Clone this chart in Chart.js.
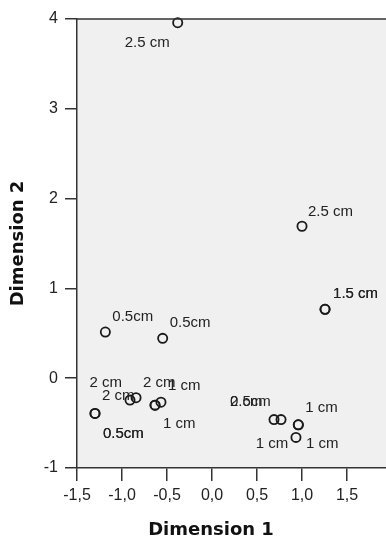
<!DOCTYPE html>
<html>
<head>
<meta charset="utf-8">
<script src="https://cdn.jsdelivr.net/npm/chart.js@4/dist/chart.umd.min.js"></script>
<style>
  html, body { margin: 0; padding: 0; background: #fff; }
  #wrap { width: 386px; height: 537px; position: relative; }
</style>
</head>
<body>
<div id="wrap"><canvas id="grafico"></canvas></div>
<script>
// ==================== DATOS ====================
const dim1 = [-0.381, 1.000, 1.256, 1.256, -1.185, -0.548, -1.300, -1.300, -0.911, -0.844,
              -0.633, -0.633, -0.567, 0.689, 0.767, 0.959, 0.959, 0.933];
const dim2 = [3.959, 1.692, 0.767, 0.767, 0.514, 0.444, -0.392, -0.392, -0.244, -0.217,
              -0.300, -0.300, -0.267, -0.461, -0.461, -0.519, -0.519, -0.659];
const etiquetas = ['2.5 cm', '2.5 cm', '1.5 cm', '1.5 cm', '0.5cm', '0.5cm', '0.5cm', '0.5cm', '2 cm', '2 cm',
                   '2 cm', '1 cm', '1 cm', '0.5cm', '2 cm', '1 cm', '1 cm', '1 cm'];
const xTicks = [-1.5, -1.0, -0.5, 0.0, 0.5, 1.0, 1.5];
const xTickLabels = ['-1,5', '-1,0', '-0,5', '0,0', '0,5', '1,0', '1,5'];
const yTicks = [-1, 0, 1, 2, 3, 4];
const yTickLabels = ['-1', '0', '1', '2', '3', '4'];
const tituloX = 'Dimension 1';
const tituloY = 'Dimension 2';

// posición de cada etiqueta respecto a su punto (px): [dx, dy, alineación]
const posEtiquetas = [
  [-8, 20, 'right'], [6, -14, 'left'], [8, -15, 'left'], [8, -15, 'left'],
  [7, -15, 'left'], [7, -15, 'left'], [8, 20, 'left'], [8, 20, 'left'],
  [-8, -17, 'right'], [-34, -2, 'left'], [-12, -22, 'left'], [8, 19, 'left'],
  [7, -16, 'left'], [-44, -18, 'left'], [-51, -18, 'left'], [7, -17, 'left'],
  [-10, 19, 'right'], [10, 6, 'left']
];

const puntos = dim1.map((x, i) => ({ x: x, y: dim2[i] }));

// ==================== PLUGINS ====================
const fondoPlot = {
  id: 'fondoPlot',
  beforeDraw(chart) {
    const { ctx, chartArea: a } = chart;
    ctx.save();
    ctx.fillStyle = '#f0f0f0';
    ctx.fillRect(a.left, a.top, a.right - a.left, a.bottom - a.top);
    ctx.restore();
  },
  afterDraw(chart) {
    const { ctx, chartArea: a, scales } = chart;
    ctx.save();
    // borde superior del marco
    ctx.strokeStyle = '#333';
    ctx.lineWidth = 1.5;
    ctx.beginPath();
    ctx.moveTo(a.left, a.top);
    ctx.lineTo(a.right, a.top);
    ctx.stroke();

    // etiquetas de los puntos
    ctx.font = '15px "Liberation Sans", Arial, sans-serif';
    ctx.fillStyle = '#222';
    ctx.textBaseline = 'middle';
    const meta = chart.getDatasetMeta(0);
    meta.data.forEach((p, i) => {
      const [dx, dy, al] = posEtiquetas[i];
      ctx.textAlign = al;
      ctx.fillText(etiquetas[i], p.x + dx, p.y + dy);
    });

    // títulos de ejes
    ctx.font = 'bold 18px "DejaVu Sans", Verdana, sans-serif';
    ctx.fillStyle = '#111';
    ctx.textAlign = 'center';
    ctx.fillText(tituloX, scales.x.getPixelForValue(0) - 1, 530);
    ctx.translate(18, (a.top + a.bottom) / 2);
    ctx.rotate(-Math.PI / 2);
    ctx.fillText(tituloY, 0, 0);
    ctx.restore();
  }
};

// ==================== GRÁFICO ====================
const ctx = document.getElementById('grafico').getContext('2d');
const grafico = new Chart(ctx, {
  type: 'scatter',
  data: {
    datasets: [{
      data: puntos,
      pointRadius: 4.6,
      pointHoverRadius: 4.6,
      pointBorderWidth: 1.8,
      pointBorderColor: '#1a1a1a',
      pointBackgroundColor: 'rgba(0,0,0,0)',
      clip: false
    }]
  },
  options: {
    responsive: true,
    maintainAspectRatio: false,
    animation: false,
    layout: { autoPadding: false, padding: { top: 19, right: 0, left: 0, bottom: 0 } },
    plugins: { legend: { display: false }, tooltip: { enabled: false } },
    scales: {
      x: {
        type: 'linear',
        min: -1.5,
        max: -1.5 + 309 / 90,
        afterFit(s) { s.height = 69; s.paddingLeft = 0; s.paddingRight = 0; },
        afterBuildTicks(s) { s.ticks = xTicks.map(v => ({ value: v })); },
        ticks: {
          callback: (v, i) => xTickLabels[i],
          font: { family: '"Liberation Sans", Arial, sans-serif', size: 16 },
          color: '#222',
          padding: 5,
          maxRotation: 0,
          autoSkip: false
        },
        grid: { drawOnChartArea: false, drawTicks: true, tickLength: 13, color: '#333', lineWidth: 1.5 },
        border: { display: true, color: '#333', width: 1.5 }
      },
      y: {
        type: 'linear',
        min: -1,
        max: 4,
        afterFit(s) { s.width = 77; s.paddingTop = 0; s.paddingBottom = 0; },
        afterBuildTicks(s) { s.ticks = yTicks.map(v => ({ value: v })); },
        ticks: {
          callback: (v, i) => yTickLabels[i],
          font: { family: '"Liberation Sans", Arial, sans-serif', size: 16 },
          color: '#222',
          padding: 7,
          autoSkip: false
        },
        grid: { drawOnChartArea: false, drawTicks: true, tickLength: 12, color: '#333', lineWidth: 1.5 },
        border: { display: true, color: '#333', width: 1.5 }
      }
    }
  },
  plugins: [fondoPlot]
});
</script>
</body>
</html>
